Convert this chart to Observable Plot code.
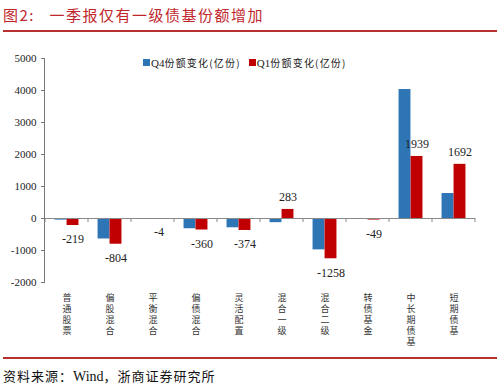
<!DOCTYPE html>
<html>
<head>
<meta charset="utf-8">
<script src="https://cdn.jsdelivr.net/npm/d3@7"></script>
<script src="https://cdn.jsdelivr.net/npm/@observablehq/plot@0.6"></script>
<style>
  html, body { margin: 0; padding: 0; background: #fff; }
  #wrap { position: relative; width: 500px; height: 389px; overflow: hidden; }
  #title { position: absolute; left: 3px; top: 4px; font-family: "Noto Sans CJK SC", sans-serif; font-size: 15px; color: #c0272d; letter-spacing: 1.5px; white-space: pre; line-height: 22px; }
  #tline { position: absolute; left: 3px; right: 3px; top: 30px; height: 2px; background: #b8312f; }
  #chart { position: absolute; left: 0; top: 34px; }
  #fline { position: absolute; left: 3px; right: 3px; top: 357px; height: 2px; background: #b8312f; }
  #foot { position: absolute; left: 3px; top: 366px; font-family: "Noto Sans CJK SC", serif; font-size: 13px; color: #111; letter-spacing: 1px; line-height: 20px; }
  #foot .lat { font-family: "Liberation Serif", serif; font-size: 14px; letter-spacing: 0; }
  #legend { position: absolute; left: 143px; top: 55px; font-family: "Noto Sans CJK SC", sans-serif; font-size: 10px; color: #222; display: flex; align-items: center; white-space: nowrap; }
  #legend .sw { display: inline-block; width: 7px; height: 7px; margin-right: 1px; }
  #legend .item { display: flex; align-items: center; margin-right: 8px; letter-spacing: 1.2px; }
  #legend .q { font-family: "Liberation Serif", serif; font-size: 11px; letter-spacing: 0; }
  .vlabels text { writing-mode: vertical-rl; text-orientation: upright; letter-spacing: 2px; }
</style>
</head>
<body>
<div id="wrap">
  <div id="title">图2:   一季报仅有一级债基份额增加</div>
  <div id="tline"></div>
  <div id="chart"></div>
  <div id="legend"></div>
  <div id="fline"></div>
  <div id="foot">资料来源：<span class="lat">Wind</span>，浙商证券研究所</div>
</div>
<script>
const categories = ["普通股票", "偏股混合", "平衡混合", "偏债混合", "灵活配置", "混合一级", "混合二级", "转债基金", "中长期债基", "短期债基"];
const q4Values = [-50, -640, -20, -320, -290, -130, -980, -30, 4030, 780];
const q1Values = [-219, -804, -4, -360, -374, 283, -1258, -49, 1939, 1692];
const seriesNames = ["Q4份额变化(亿份)", "Q1份额变化(亿份)"];
const seriesColors = ["#2e75b6", "#c00000"];
const yTicks = [-2000, -1000, 0, 1000, 2000, 3000, 4000, 5000];

const rows = [];
categories.forEach((c, i) => {
  rows.push({cat: c, series: "Q4", value: q4Values[i]});
  rows.push({cat: c, series: "Q1", value: q1Values[i]});
});
const q1Rows = rows.filter(d => d.series === "Q1");

function boundaryTicks(index, scales) {
  const x = scales.x, y = scales.y;
  const step = x(categories[1]) - x(categories[0]);
  const xs = categories.map(c => x(c)).concat([x(categories[categories.length - 1]) + step]);
  const y0 = y(0);
  return d3.create("svg:path")
    .attr("d", xs.map(v => `M${v},${y0}V${y0 + 4}`).join(""))
    .attr("stroke", "#888")
    .attr("fill", "none")
    .node();
}

const W = 500, ML = 44, MR = 25;
const step = (W - ML - MR) / categories.length;
const barW = 12;
const innerGap = step / 2;
const outerGap = step / 2 - barW;

const chart = Plot.plot({
  width: W,
  height: 318,
  marginLeft: ML,
  marginRight: MR,
  marginTop: 24,
  marginBottom: 70,
  x: {domain: categories, padding: 0, axis: null},
  y: {domain: [-2000, 5000], axis: null},
  style: {background: "transparent", overflow: "visible"},
  marks: [
    Plot.barY(rows.filter(d => d.series === "Q4"), {x: "cat", y: "value", fill: seriesColors[0], insetLeft: outerGap, insetRight: innerGap}),
    Plot.barY(q1Rows, {x: "cat", y: "value", fill: seriesColors[1], insetLeft: innerGap, insetRight: outerGap}),
    Plot.ruleY([0], {stroke: "#888", strokeWidth: 1}),
    boundaryTicks,
    Plot.frame({anchor: "left", stroke: "#777"}),
    Plot.axisY({ticks: yTicks, label: null, tickSize: 3, tickPadding: 5, tickFormat: d => String(d), fontSize: 11, fontFamily: "Liberation Serif", stroke: "#777", fill: "#222"}),
    Plot.text(q1Rows.filter(d => d.value >= 0), {x: "cat", y: "value", text: d => String(d.value), dx: barW / 2, dy: -12, fontSize: 12, fontFamily: "Liberation Serif", fill: "#222"}),
    Plot.text(q1Rows.filter(d => d.value < 0), {x: "cat", y: "value", text: d => String(d.value), dx: barW / 2, dy: 14, fontSize: 12, fontFamily: "Liberation Serif", fill: "#222"}),
    Plot.text(categories, {x: d => d, text: d => d, frameAnchor: "bottom", textAnchor: "start", lineAnchor: "middle", dy: 8, fontSize: 9, fontFamily: "Noto Sans CJK SC", fill: "#333", className: "vlabels"})
  ]
});
document.getElementById("chart").appendChild(chart);

const legend = document.getElementById("legend");
seriesNames.forEach((name, i) => {
  const item = document.createElement("span");
  item.className = "item";
  const sw = document.createElement("span");
  sw.className = "sw";
  sw.style.background = seriesColors[i];
  item.appendChild(sw);
  const q = document.createElement("span");
  q.className = "q";
  q.textContent = name.slice(0, 2);
  item.appendChild(q);
  const rest = document.createElement("span");
  rest.textContent = name.slice(2);
  item.appendChild(rest);
  legend.appendChild(item);
});
</script>
</body>
</html>
